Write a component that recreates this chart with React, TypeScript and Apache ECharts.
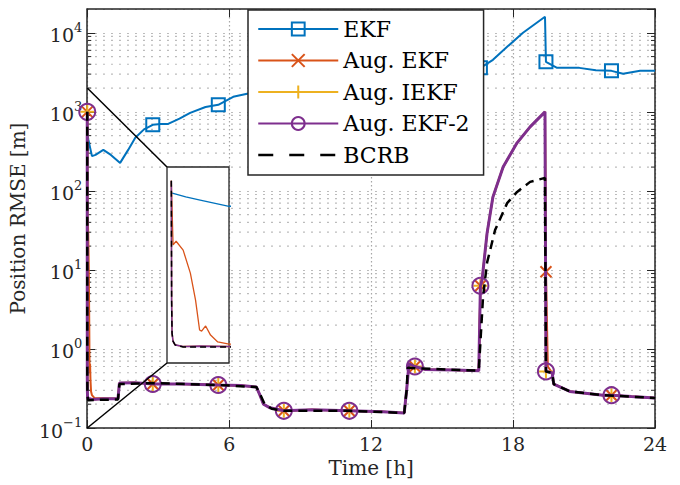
import React, { useEffect, useRef } from "react";
import * as echarts from "echarts";

// ---- data (time in hours, RMSE in metres) ----
const xTickStep = 6;
const markerTimes = [0, 2.77, 5.54, 8.31, 11.08, 13.85, 16.62, 19.39, 22.16];
const ekfMarkerTimes = [2.77, 5.54, 8.31, 11.08, 13.85, 16.62, 19.39, 22.16];

const ekfData: [number, number][] = [
  [0, 540], [0.05, 440], [0.1, 376], [0.2, 275], [0.35, 285], [0.68, 330], [1.0, 285],
  [1.39, 226], [1.73, 330], [2.03, 469], [2.4, 600], [2.77, 685], [3.1, 700], [3.42, 704],
  [3.9, 820], [4.35, 971], [5.0, 1150], [5.54, 1226], [6.17, 1549], [6.76, 1690],
  [8.31, 1900], [11.08, 2300], [13.85, 2900], [16.62, 3600], [17.15, 4550], [17.75, 6650],
  [18.42, 10000], [19.35, 15950], [19.39, 4300], [19.86, 3600], [20.8, 3600], [21.5, 3350],
  [22.16, 3300], [22.65, 3030], [23.37, 3300], [24, 3300],
];

const augEkfData: [number, number][] = [
  [0, 1000], [0.006, 39], [0.0166, 47], [0.041, 30], [0.066, 9.4], [0.084, 2.4], [0.098, 0.53],
  [0.105, 0.5], [0.119, 0.65], [0.136, 0.41], [0.161, 0.29], [0.2, 0.26], [0.3, 0.24],
  [1.3, 0.235], [1.36, 0.37], [2.0, 0.375], [2.77, 0.36], [4.0, 0.36], [5.54, 0.35],
  [6.5, 0.345], [7.15, 0.33], [7.3, 0.26], [7.45, 0.2], [7.73, 0.18], [8.31, 0.165],
  [9.5, 0.17], [11.08, 0.165], [12.5, 0.16], [13.4, 0.155], [13.5, 0.3], [13.6, 0.65],
  [13.85, 0.6], [14.3, 0.55], [15.5, 0.54], [16.55, 0.53], [16.62, 6.3], [16.69, 7.5],
  [16.9, 29], [17.15, 84], [17.58, 201], [18.17, 405], [18.72, 646], [19.35, 1000],
  [19.39, 9.5], [19.47, 0.6], [19.65, 0.5], [19.72, 0.36], [20.4, 0.29], [21.8, 0.26],
  [22.16, 0.26], [23.0, 0.25], [24, 0.24],
];

const augEkf2Data: [number, number][] = [
  [0, 1000], [0.001, 2.4], [0.0025, 0.45], [0.006, 0.3], [0.013, 0.25], [0.041, 0.23],
  [0.1, 0.235], [0.2, 0.23], [0.7, 0.235], [1.3, 0.235], [1.36, 0.37], [2.0, 0.375],
  [2.77, 0.36], [4.0, 0.36], [5.54, 0.35], [6.5, 0.345], [7.15, 0.33], [7.3, 0.26],
  [7.45, 0.2], [7.73, 0.18], [8.31, 0.165], [9.5, 0.17], [11.08, 0.165], [12.5, 0.16],
  [13.4, 0.155], [13.5, 0.3], [13.6, 0.65], [13.85, 0.6], [14.3, 0.55], [15.5, 0.54],
  [16.55, 0.53], [16.62, 6.3], [16.69, 7.5], [16.9, 29], [17.15, 84], [17.58, 201],
  [18.17, 405], [18.72, 646], [19.35, 1000], [19.39, 0.52], [19.65, 0.5], [19.72, 0.36],
  [20.4, 0.29], [21.8, 0.26], [22.16, 0.26], [23.0, 0.25], [24, 0.24],
];

// Aug. IEKF is indistinguishable from Aug. EKF-2 in the picture
const augIekfData: [number, number][] = augEkf2Data;

const bcrbData: [number, number][] = [
  [0, 1000], [0.001, 2.4], [0.0025, 0.45], [0.006, 0.3], [0.013, 0.25], [0.041, 0.225],
  [1.3, 0.23], [1.36, 0.36], [2.77, 0.37], [5.54, 0.35], [7.15, 0.33], [7.3, 0.27],
  [7.5, 0.2], [7.8, 0.175], [8.31, 0.165], [11.08, 0.165], [13.4, 0.155], [13.5, 0.3],
  [13.55, 0.58], [13.85, 0.57], [16.55, 0.53], [16.73, 4.5], [16.9, 12.3], [17.24, 32],
  [17.75, 70], [18.17, 97], [18.72, 130], [19.35, 146], [19.39, 0.52], [19.65, 0.5],
  [19.72, 0.36], [20.4, 0.29], [21.8, 0.26], [24, 0.24],
];

const minorGridValues = [
  0.2, 0.3, 0.4, 0.5, 0.6, 0.7, 0.8, 0.9,
  2, 3, 4, 5, 6, 7, 8, 9,
  20, 30, 40, 50, 60, 70, 80, 90,
  200, 300, 400, 500, 600, 700, 800, 900,
  2000, 3000, 4000, 5000, 6000, 7000, 8000, 9000,
];

const yMin = 0.1;
const yMax = 20000;
const zoomTop = 2000;
const insetXMin = -0.015;
const insetXMax = 0.2;

const names = ["EKF", "Aug. EKF", "Aug. IEKF", "Aug. EKF-2", "BCRB"];
const colors = ["#0072BD", "#D95319", "#EDB120", "#7E2F8E", "#000000"];

const FONT = "DejaVu Serif";
const AX = "#262626";

function withMarkers(data: [number, number][], marks: number[]) {
  return data.map(([t, v]) =>
    marks.indexOf(t) >= 0 ? { value: [t, v] } : { value: [t, v], symbol: "none" }
  );
}

export default function App() {
  const ref = useRef<HTMLDivElement>(null);
  useEffect(() => {
    if (!ref.current) return;
    const chart = echarts.init(ref.current, null, { renderer: "svg" });

    const supText = (v: number) => {
      const e = Math.round(Math.log10(v));
      return "{b|10}{s|" + (e < 0 ? "\u2212" + -e : String(e)) + "}";
    };

    const mainLine = (i: number, data: any, extra: any) => ({
      type: "line",
      name: names[i],
      xAxisIndex: 0,
      yAxisIndex: 0,
      data,
      showAllSymbol: true,
      silent: true,
      z: 2 + i * 0.01,
      lineStyle: { color: colors[i], width: 2 },
      ...extra,
    });

    const insetLine = (i: number, data: [number, number][], extra: any) => ({
      type: "line",
      name: names[i] + " zoom",
      xAxisIndex: 2,
      yAxisIndex: 2,
      data,
      symbol: "none",
      silent: true,
      z: 5,
      clip: true,
      lineStyle: { color: colors[i], width: 1.3 },
      ...extra,
    });

    chart.setOption({
      animation: false,
      backgroundColor: "#fff",
      textStyle: { fontFamily: FONT },
      grid: [
        { left: 87, top: 9, width: 568, height: 419, show: false },
        {
          left: 167, top: 167, width: 62, height: 196, show: true, z: 3,
          backgroundColor: "#fff", borderColor: AX, borderWidth: 1.3,
        },
      ],
      legend: {
        orient: "vertical",
        left: 248,
        top: 10,
        itemWidth: 80,
        itemHeight: 16,
        itemGap: 9.5,
        padding: [8, 14, 9, 9],
        backgroundColor: "#fff",
        borderColor: AX,
        borderWidth: 1.5,
        selectedMode: false,
        textStyle: { fontFamily: FONT, fontSize: 22, color: "#000", lineHeight: 20 },
        data: [
          { name: names[0], lineStyle: { width: 2 } },
          { name: names[1], lineStyle: { width: 2 } },
          { name: names[2], lineStyle: { width: 2 } },
          { name: names[3], lineStyle: { width: 2 } },
          {
            name: names[4],
            lineStyle: { type: [15, 16], width: 2.5 },
            itemStyle: { color: "rgba(0,0,0,0)", borderWidth: 0, opacity: 0 },
          },
        ],
      },
      xAxis: [
        {
          type: "value", gridIndex: 0, position: "bottom", min: 0, max: 24, interval: xTickStep,
          axisLine: { show: true, onZero: false, lineStyle: { color: AX, width: 1.5 } },
          axisTick: { inside: true, length: 8, lineStyle: { color: AX, width: 1 } },
          axisLabel: { margin: 6, fontFamily: FONT, fontSize: 19, color: AX, showMinLabel: true, showMaxLabel: true },
          splitLine: { show: true, lineStyle: { color: "#a6a6a6", width: 1.2, type: [1.5, 2.5] } },
          name: "Time [h]",
          nameLocation: "middle",
          nameGap: 30,
          nameTextStyle: { fontFamily: FONT, fontSize: 20, color: AX },
        },
        {
          type: "value", gridIndex: 0, position: "top", min: 0, max: 24, interval: xTickStep,
          axisLine: { show: true, onZero: false, lineStyle: { color: AX, width: 1.5 } },
          axisTick: { inside: true, length: 8, lineStyle: { color: AX, width: 1 } },
          axisLabel: { show: false },
          splitLine: { show: false },
        },
        { type: "value", gridIndex: 1, min: insetXMin, max: insetXMax, show: false },
      ],
      yAxis: [
        {
          type: "log", logBase: 10, gridIndex: 0, position: "left", min: yMin, max: yMax,
          axisLine: { show: true, onZero: false, lineStyle: { color: AX, width: 1.5 } },
          axisTick: { inside: true, length: 8, lineStyle: { color: AX, width: 1 } },
          axisLabel: {
            margin: 5,
            formatter: supText,
            rich: {
              b: { fontFamily: FONT, fontSize: 19, color: AX, verticalAlign: "bottom", lineHeight: 24 },
              s: { fontFamily: FONT, fontSize: 13, color: AX, verticalAlign: "top", lineHeight: 14 },
            },
          },
          splitLine: { show: true, lineStyle: { color: "#a6a6a6", width: 1.2, type: [1.5, 6.5] } },
          name: "Position RMSE [m]",
          nameLocation: "middle",
          nameGap: 52,
          nameTextStyle: { fontFamily: FONT, fontSize: 20, color: AX },
        },
        {
          type: "log", logBase: 10, gridIndex: 0, position: "right", min: yMin, max: yMax,
          axisLine: { show: true, onZero: false, lineStyle: { color: AX, width: 1.5 } },
          axisTick: { inside: true, length: 8, lineStyle: { color: AX, width: 1 } },
          axisLabel: { show: false },
          splitLine: { show: false },
        },
        { type: "log", logBase: 10, gridIndex: 1, min: yMin, max: zoomTop, show: false },
      ],
      series: [
        {
          type: "custom",
          name: "minor grid",
          coordinateSystem: "cartesian2d",
          xAxisIndex: 0,
          yAxisIndex: 0,
          silent: true,
          z: 1,
          encode: { x: 0, y: 1 },
          data: minorGridValues.map((v) => [0, v]),
          renderItem: (_p: any, api: any) => {
            const v = api.value(1);
            const a = api.coord([0, v]);
            const b = api.coord([24, v]);
            return {
              type: "group",
              children: [
                { type: "line", shape: { x1: a[0], y1: a[1], x2: b[0], y2: b[1] },
                  style: { stroke: "#a6a6a6", lineWidth: 1.2, lineDash: [1.5, 6.5] } },
                { type: "line", shape: { x1: a[0], y1: a[1], x2: a[0] + 4, y2: a[1] },
                  style: { stroke: AX, lineWidth: 1 } },
                { type: "line", shape: { x1: b[0] - 4, y1: b[1], x2: b[0], y2: b[1] },
                  style: { stroke: AX, lineWidth: 1 } },
              ],
            };
          },
        },
        mainLine(0, withMarkers(ekfData, ekfMarkerTimes), {
          symbol: "rect", symbolSize: 13,
          itemStyle: { color: "rgba(0,0,0,0)", borderColor: colors[0], borderWidth: 2 },
        }),
        mainLine(1, withMarkers(augEkfData, markerTimes), {
          symbol: "path://M0,0L10,10M0,10L10,0", symbolSize: 11,
          itemStyle: { color: "rgba(0,0,0,0)", borderColor: colors[1], borderWidth: 2 },
        }),
        mainLine(2, withMarkers(augIekfData, markerTimes), {
          symbol: "path://M5,0L5,10M0,5L10,5", symbolSize: 14,
          itemStyle: { color: "rgba(0,0,0,0)", borderColor: colors[2], borderWidth: 2 },
        }),
        mainLine(3, withMarkers(augEkf2Data, markerTimes), {
          symbol: "circle", symbolSize: 16,
          lineStyle: { color: colors[3], width: 3 },
          itemStyle: { color: "rgba(0,0,0,0)", borderColor: colors[3], borderWidth: 2 },
        }),
        mainLine(4, bcrbData, {
          symbol: "none",
          lineStyle: { color: colors[4], width: 2.5, type: [9, 6] },
        }),
        insetLine(0, ekfData, {}),
        insetLine(1, augEkfData, {}),
        insetLine(2, augIekfData, {}),
        insetLine(3, augEkf2Data, { lineStyle: { color: colors[3], width: 1.6 } }),
        insetLine(4, bcrbData, { lineStyle: { color: colors[4], width: 1.5, type: [6, 4] } }),
      ],
    });

    // zoom-indicator lines from the zoomed region at t=0 to the inset's left corners
    const pTop = chart.convertToPixel({ xAxisIndex: 0, yAxisIndex: 0 }, [0, zoomTop]) as number[];
    const pBot = chart.convertToPixel({ xAxisIndex: 0, yAxisIndex: 0 }, [0, yMin]) as number[];
    const qTop = chart.convertToPixel({ xAxisIndex: 2, yAxisIndex: 2 }, [insetXMin, zoomTop]) as number[];
    const qBot = chart.convertToPixel({ xAxisIndex: 2, yAxisIndex: 2 }, [insetXMin, yMin]) as number[];
    chart.setOption({
      graphic: [
        { type: "line", z: 3, silent: true, shape: { x1: pTop[0], y1: pTop[1], x2: qTop[0], y2: qTop[1] }, style: { stroke: "#000", lineWidth: 1.5 } },
        { type: "line", z: 3, silent: true, shape: { x1: pBot[0], y1: pBot[1], x2: qBot[0], y2: qBot[1] }, style: { stroke: "#000", lineWidth: 1.5 } },
      ],
    });

    return () => chart.dispose();
  }, []);
  return (
    <div
      ref={ref}
      style={{ position: "fixed", left: 0, top: 0, width: 680, height: 485, background: "#fff" }}
    />
  );
}
